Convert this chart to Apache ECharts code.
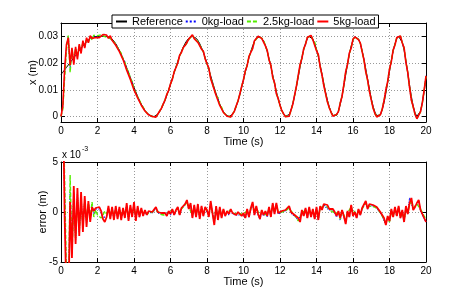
<!DOCTYPE html>
<html>
<head>
<meta charset="utf-8">
<script src="https://cdn.jsdelivr.net/npm/echarts@6/dist/echarts.min.js"></script>
<style>html,body{margin:0;padding:0;background:#fff;}#c{width:471px;height:294px;}</style>
</head>
<body>
<div id="c"></div>
<script>
// Time samples (s)
const tGrid = [
0,0.1,0.2,0.3,0.4,0.5,0.6,0.7,0.8,0.9,
1,1.1,1.2,1.3,1.4,1.5,1.6,1.7,1.8,1.9,
2,2.1,2.2,2.3,2.4,2.5,2.6,2.7,2.8,2.9,
3,3.1,3.2,3.3,3.4,3.5,3.6,3.7,3.8,3.9,
4,4.1,4.2,4.3,4.4,4.5,4.6,4.7,4.8,4.9,
5,5.1,5.2,5.3,5.4,5.5,5.6,5.7,5.8,5.9,
6,6.1,6.2,6.3,6.4,6.5,6.6,6.7,6.8,6.9,
7,7.1,7.2,7.3,7.4,7.5,7.6,7.7,7.8,7.9,
8,8.1,8.2,8.3,8.4,8.5,8.6,8.7,8.8,8.9,
9,9.1,9.2,9.3,9.4,9.5,9.6,9.7,9.8,9.9,
10,10.1,10.2,10.3,10.4,10.5,10.6,10.7,10.8,10.9,
11,11.1,11.2,11.3,11.4,11.5,11.6,11.7,11.8,11.9,
12,12.1,12.2,12.3,12.4,12.5,12.6,12.7,12.8,12.9,
13,13.1,13.2,13.3,13.4,13.5,13.6,13.7,13.8,13.9,
14,14.1,14.2,14.3,14.4,14.5,14.6,14.7,14.8,14.9,
15,15.1,15.2,15.3,15.4,15.5,15.6,15.7,15.8,15.9,
16,16.1,16.2,16.3,16.4,16.5,16.6,16.7,16.8,16.9,
17,17.1,17.2,17.3,17.4,17.5,17.6,17.7,17.8,17.9,
18,18.1,18.2,18.3,18.4,18.5,18.6,18.7,18.8,18.9,
19,19.1,19.2,19.3,19.4,19.5,19.6,19.7,19.8,19.9,
20];

// Reference position x (m)
const xRef = [
0.0158,0.0166,0.0175,0.0184,0.0193,0.0202,0.0211,0.0220,0.0229,0.0238,
0.0247,0.0256,0.0264,0.0272,0.0280,0.0287,0.0293,0.0297,0.0299,0.0300,
0.0300,0.0300,0.0300,0.0300,0.0300,0.0300,0.02989,0.02955,0.02900,0.02823,
0.02726,0.02612,0.02480,0.02333,0.02174,0.02005,0.01829,0.01647,0.01463,0.01280,
0.01100,0.00926,0.00761,0.00606,0.00466,0.00341,0.00231,0.00144,0.00076,0.00029,
0.00004,0.00003,0.00031,0.00091,0.00181,0.00300,0.00443,0.00609,0.00794,0.00995,
0.01206,0.01423,0.01642,0.01859,0.02066,0.02263,0.02443,0.02603,0.02739,0.02849,
0.02929,0.02981,0.03000,0.02985,0.02934,0.02852,0.02730,0.02581,0.02406,0.02209,
0.01995,0.01768,0.01535,0.01301,0.01072,0.00853,0.00650,0.00469,0.00312,0.00186,
0.00087,0.00026,0.00001,0.00017,0.00087,0.00208,0.00376,0.00584,0.00825,0.01091,
0.01372,0.01657,0.01936,0.02200,0.02439,0.02643,0.02805,0.02922,0.02987,0.02997,
0.02945,0.02829,0.02656,0.02432,0.02167,0.01873,0.01563,0.01250,0.00948,0.00670,
0.00428,0.00234,0.00094,0.00016,0.00004,0.00077,0.00236,0.00472,0.00772,0.01115,
0.01482,0.01850,0.02196,0.02500,0.02744,0.02911,0.02993,0.02986,0.02900,0.02741,
0.02517,0.02241,0.01924,0.01586,0.01243,0.00914,0.00615,0.00363,0.00172,0.00048,
0.00000,0.00045,0.00198,0.00447,0.00774,0.01155,0.01561,0.01964,0.02331,0.02637,
0.02859,0.02980,0.02992,0.02905,0.02727,0.02469,0.02148,0.01786,0.01404,0.01029,
0.00685,0.00393,0.00174,0.00039,0.00001,0.00070,0.00248,0.00523,0.00874,0.01271,
0.01687,0.02088,0.02444,0.02728,0.02917,0.02998,0.02955,0.02775,0.02476,0.02085,
0.01638,0.01180,0.00750,0.00392,0.00137,0.00011,0.00029,0.00205,0.00521,0.00942,
0.01425];

// Tracking error = reference - position, in units of 10^-3 m
const err0kg = [
15.7,13.0,1.0,-7.8,-10.5,2.0,-4.0,2.0,-2.8,1.8,
-2.0,1.4,-1.5,1.2,-1.1,0.8,-0.7,0.6,-0.2,0.3,
0.4,0.3,-0.1,-0.6,-0.8,-0.4,0.4,-0.6,0.4,-0.7,
0.4,-0.6,0.3,-0.7,0.3,-0.5,0.7,-0.8,0.5,-0.5,
0.8,-0.8,0.4,-0.5,0.3,-0.4,0.1,-0.3,0.0,-0.2,
-0.1,0.1,0.4,-0.1,-0.3,-0.2,-0.4,-0.2,-0.4,0.0,
-0.3,0.2,-0.3,0.1,0.4,-0.3,0.3,0.2,0.8,1.1,
0.3,0.7,-0.5,0.6,-0.5,0.6,-0.6,0.5,-0.4,0.4,
0.2,-0.4,0.9,0.8,-1.1,0.5,-0.7,0.4,-0.5,0.2,
-0.4,0.0,-0.3,0.2,-0.2,0.0,-0.3,-0.1,-0.3,-0.5,
-0.3,-0.6,0.1,-0.5,0.3,0.8,-0.3,0.5,-0.3,-0.7,
0.1,-0.4,0.0,-0.5,0.4,-0.5,0.8,-0.2,0.8,-0.2,
-0.1,0.0,-0.2,0.1,0.0,0.5,-0.1,0.0,-0.4,-0.4,
-0.8,-0.9,0.0,-0.4,0.3,-0.6,0.4,-0.5,0.2,-0.7,
0.4,-0.8,0.5,0.2,0.8,0.5,0.6,0.2,0.0,0.2,
-0.1,-0.5,0.0,-0.8,0.1,-0.5,-1.1,0.0,-0.5,0.6,
-0.4,0.0,-0.6,0.2,-0.3,0.3,0.2,1.0,0.3,0.7,
0.5,0.6,0.5,0.4,0.2,-0.1,-0.4,-0.9,-1.2,-0.5,
-0.9,0.2,-0.5,0.4,-0.4,0.5,-0.6,0.1,-1.0,0.5,
-0.2,1.4,1.3,0.3,0.4,0.8,1.1,0.1,-0.1,-0.7,
-1.0];
const err25kg = [
15.7,13.8,3.0,-6.5,-11.0,3.7,-4.2,1.2,-2.6,1.0,
-1.8,0.6,-1.2,1.0,-0.8,0.9,-0.6,1.0,-0.5,0.2,
-0.3,-0.5,-0.6,-0.3,0.1,-0.2,0.3,-0.4,0.3,-0.4,
0.3,-0.3,0.2,-0.4,0.2,-0.3,0.5,-0.5,0.4,-0.3,
0.6,-0.5,0.3,-0.3,0.2,-0.2,0.1,-0.2,0.0,-0.1,
0.0,0.1,0.3,0.1,-0.2,-0.2,-0.3,-0.2,-0.3,0.0,
-0.1,0.2,-0.2,0.1,0.4,-0.2,0.3,0.3,0.7,1.0,
0.5,0.6,-0.3,0.5,-0.3,0.5,-0.4,0.4,-0.2,0.4,
0.3,-0.2,0.8,0.7,-0.9,0.4,-0.5,0.3,-0.4,0.2,
-0.3,0.0,-0.2,0.2,-0.1,0.0,-0.2,-0.1,-0.2,-0.3,
-0.2,-0.4,0.1,-0.3,0.3,0.8,0.0,0.5,0.0,-0.5,
0.1,-0.2,0.0,-0.3,0.3,-0.3,0.7,0.1,0.7,0.0,
0.1,0.0,0.0,0.1,0.2,0.4,0.1,0.0,-0.3,-0.5,
-0.9,-0.7,-0.1,-0.3,0.2,-0.4,0.3,-0.4,0.2,-0.5,
0.3,-0.6,0.4,0.3,0.6,0.5,0.5,0.3,0.1,0.2,
-0.1,-0.3,-0.1,-0.7,0.0,-0.3,-0.9,-0.1,-0.3,0.5,
-0.2,0.1,-0.4,0.2,-0.2,0.3,0.3,0.9,0.5,0.7,
0.6,0.6,0.5,0.4,0.2,-0.1,-0.4,-0.8,-1.1,-0.6,
-1.0,0.1,-0.4,0.3,-0.3,0.4,-0.5,0.0,-0.9,0.4,
-0.1,0.7,1.2,0.4,0.4,0.8,1.0,0.3,0.1,-0.4,
-0.7];
const err5kg = [
15.7,12.6,-0.5,-8.6,-10.2,1.0,-4.6,2.6,-3.2,2.4,
-2.4,2.0,-2.0,1.6,-1.5,1.1,-1.0,0.5,0.1,0.4,
0.6,0.5,0.1,-0.7,-1.0,-0.5,0.6,-0.7,0.5,-0.8,
0.6,-0.7,0.5,-0.8,0.4,-0.6,0.9,-0.9,0.7,-0.5,
1.0,-0.9,0.6,-0.5,0.4,-0.4,0.2,-0.3,0.1,-0.1,
0.0,0.2,0.5,0.0,-0.2,-0.1,-0.3,-0.1,-0.4,0.1,
-0.2,0.3,-0.3,0.2,0.5,-0.3,0.4,0.2,0.8,1.2,
0.3,0.9,-0.6,0.7,-0.5,0.8,-0.7,0.6,-0.4,0.5,
0.2,-0.5,1.1,0.9,-1.3,0.6,-0.8,0.5,-0.6,0.3,
-0.4,0.1,-0.2,0.3,-0.1,0.1,-0.3,0.0,-0.2,-0.4,
-0.1,-0.6,0.3,-0.5,0.4,1.0,-0.3,0.6,-0.2,-0.7,
0.2,-0.3,0.1,-0.4,0.5,-0.5,0.9,-0.2,0.9,-0.1,
0.0,0.1,-0.1,0.2,0.1,0.6,0.0,0.1,-0.3,-0.2,
-0.6,-1.0,0.2,-0.4,0.4,-0.6,0.5,-0.5,0.3,-0.7,
0.5,-0.8,0.6,0.2,0.8,0.6,0.7,0.3,0.1,0.3,
0.0,-0.4,0.1,-0.6,0.2,-0.4,-1.2,0.1,-0.5,0.7,
-0.4,0.0,-0.6,0.3,-0.3,0.4,0.2,1.1,0.3,0.8,
0.6,0.7,0.6,0.5,0.3,0.0,-0.3,-0.6,-1.3,-0.4,
-0.9,0.3,-0.5,0.5,-0.4,0.6,-0.6,0.2,-1.0,0.6,
-0.2,0.9,1.4,0.2,0.5,0.9,1.2,0.2,0.0,-0.6,
-1.0];

const seriesNames = ['Reference','0kg-load','2.5kg-load','5kg-load'];
const posTicks = [0, 0.01, 0.02, 0.03];
const errTicks = [-5, 0, 5];

const FONT = '"Liberation Sans", Arial, Helvetica, sans-serif';
const colRef = '#000000', col0 = '#0000ff', col25 = '#55ee00', col5 = '#ff0000';

function pts(vals) { return tGrid.map((t, i) => [t, vals[i]]); }
function posFromErr(err) { return tGrid.map((t, i) => [t, xRef[i] - err[i] / 1000]); }

const lbl = { fontFamily: FONT, fontSize: 10, color: '#000' };
const nameStyle = { fontFamily: FONT, fontSize: 11, color: '#000' };
const split = { show: true, lineStyle: { color: '#999', type: [1, 2], width: 1 } };
const aLine = { show: true, onZero: false, lineStyle: { color: '#000', width: 1 } };
const tick = { show: true, inside: true, length: 4, lineStyle: { color: '#000' } };

function xMain(grid) {
  return { type: 'value', gridIndex: grid, min: 0, max: 20, interval: 2,
    axisLine: aLine, axisTick: tick, splitLine: split,
    axisLabel: Object.assign({ margin: 4 }, lbl),
    name: 'Time (s)', nameLocation: 'middle', nameGap: 14, nameMoveOverlap: false, nameTextStyle: nameStyle };
}
function xTop(grid) {
  return { type: 'value', gridIndex: grid, position: 'top', min: 0, max: 20, interval: 2,
    axisLine: aLine, axisTick: tick, splitLine: { show: false }, axisLabel: { show: false } };
}

const option = {
  animation: false,
  backgroundColor: '#fff',
  grid: [
    { left: 61, top: 23, width: 365, height: 99, show: false },
    { left: 61, top: 162, width: 365, height: 100, show: false }
  ],
  legend: {
    data: seriesNames, left: 112, top: 15, itemWidth: 11, itemHeight: 10, itemGap: 2,
    padding: [1, 3, 1, 3], borderColor: '#000', borderWidth: 1, backgroundColor: '#fff',
    itemStyle: { opacity: 0 },
    textStyle: { fontFamily: FONT, fontSize: 11, color: '#000' }, selectedMode: false, z: 10
  },
  xAxis: [xMain(0), xTop(0), xMain(1), xTop(1)],
  yAxis: [
    { type: 'value', gridIndex: 0, min: -0.002, max: 0.035,
      axisLine: aLine, axisTick: Object.assign({ customValues: posTicks }, tick), splitLine: split,
      axisLabel: Object.assign({ margin: 3, customValues: posTicks, formatter: v => String(+v.toFixed(3)) }, lbl),
      name: 'x (m)', nameLocation: 'middle', nameGap: 23, nameMoveOverlap: false, nameTextStyle: nameStyle },
    { type: 'value', gridIndex: 0, position: 'right', min: -0.002, max: 0.035,
      axisLine: aLine, axisTick: Object.assign({ customValues: posTicks }, tick),
      splitLine: { show: false }, axisLabel: { show: false } },
    { type: 'value', gridIndex: 1, min: -5, max: 5, interval: 5,
      axisLine: aLine, axisTick: tick, splitLine: split,
      axisLabel: Object.assign({ margin: 3 }, lbl),
      name: 'error (m)', nameLocation: 'middle', nameGap: 13, nameMoveOverlap: false, nameTextStyle: nameStyle },
    { type: 'value', gridIndex: 1, position: 'right', min: -5, max: 5, interval: 5,
      axisLine: aLine, axisTick: tick, splitLine: { show: false }, axisLabel: { show: false } }
  ],
  graphic: [
    { type: 'text', left: 62, top: 150, style: { text: 'x 10', fontFamily: FONT, fontSize: 10, fill: '#000' } },
    { type: 'text', left: 82, top: 146, style: { text: '-3', fontFamily: FONT, fontSize: 7, fill: '#000' } }
  ],
  series: [
    { name: seriesNames[0], type: 'line', xAxisIndex: 0, yAxisIndex: 0, data: pts(xRef),
      symbol: 'none', lineStyle: { color: colRef, width: 1 }, itemStyle: { color: colRef } },
    { name: seriesNames[1], type: 'line', xAxisIndex: 0, yAxisIndex: 0, data: posFromErr(err0kg),
      symbol: 'none', lineStyle: { color: col0, width: 1, type: 'dotted' }, itemStyle: { color: col0 } },
    { name: seriesNames[2], type: 'line', xAxisIndex: 0, yAxisIndex: 0, data: posFromErr(err25kg),
      symbol: 'none', lineStyle: { color: col25, width: 1.4, type: [4, 2] }, itemStyle: { color: col25 } },
    { name: seriesNames[3], type: 'line', xAxisIndex: 0, yAxisIndex: 0, data: posFromErr(err5kg),
      symbol: 'none', lineStyle: { color: col5, width: 1.6 }, itemStyle: { color: col5 } },
    { name: seriesNames[1], type: 'line', xAxisIndex: 2, yAxisIndex: 2, data: pts(err0kg),
      symbol: 'none', lineStyle: { color: col0, width: 1.2, type: 'dotted' }, itemStyle: { color: col0 } },
    { name: seriesNames[2], type: 'line', xAxisIndex: 2, yAxisIndex: 2, data: pts(err25kg),
      symbol: 'none', lineStyle: { color: col25, width: 1.4, type: [4, 2] }, itemStyle: { color: col25 } },
    { name: seriesNames[3], type: 'line', xAxisIndex: 2, yAxisIndex: 2, data: pts(err5kg),
      symbol: 'none', lineStyle: { color: col5, width: 1.8 }, itemStyle: { color: col5 } }
  ]
};

const chart = echarts.init(document.getElementById('c'), null, { renderer: 'canvas' });
chart.setOption(option);
</script>
</body>
</html>
